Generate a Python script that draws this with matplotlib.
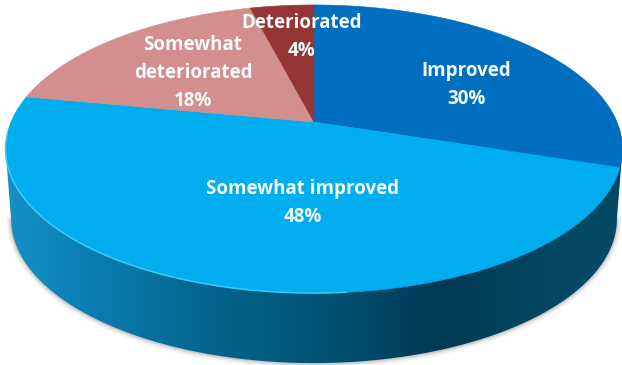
import numpy as np
import matplotlib
matplotlib.use('Agg')
import matplotlib.pyplot as plt
from matplotlib.colors import LinearSegmentedColormap
from matplotlib.patches import Polygon

categories = ['Improved', 'Somewhat improved', 'Somewhat\ndeteriorated', 'Deteriorated']
values = [30, 48, 18, 4]
colors = ['#006fbf', '#00aeef', '#d28f8d', '#943634']
label_pos = [(466, 85), (303, 203), (193, 73), (302, 37)]

# perspective of the tilted disc, in pixels
CX, CY = 314, 122
SX, SY = 303, 139
K = 0.1875
DEPTH = 70
SHRINK = 0.982


def project(theta):
    # theta is in degrees, clockwise from twelve o'clock
    t = np.radians(theta)
    d = 1 + K * np.cos(t)
    return CX + SX * np.sin(t) / d, CY - SY * np.cos(t) / d


fig = plt.figure(figsize=(6.22, 3.65), dpi=100)
ax = fig.add_axes([0, 0, 1, 1])

# the widest points of the disc sit a little below the horizontal angle
side = np.degrees(np.arccos(-K))
arc = np.linspace(side, 360 - side, 200)
x_top, y_top = project(arc)
x_bot = CX + (x_top - CX) * SHRINK
y_bot = y_top + DEPTH
wall_xy = np.vstack([np.column_stack([x_top[:1], y_top[:1]]),
                     np.column_stack([x_bot, y_bot]),
                     np.column_stack([x_top[-1:], y_top[-1:]])])

# soft shadow under the wall
for grow, alpha in [(5, 0.04), (3.5, 0.06), (2, 0.09), (1, 0.12)]:
    ax.plot(x_bot, y_bot + 0.5, color='#404040', lw=grow * 1.4, alpha=alpha,
            solid_capstyle='round', zorder=1)

wall = Polygon(wall_xy, closed=True, fc='none', ec='none', zorder=2)
ax.add_patch(wall)
wall_cmap = LinearSegmentedColormap.from_list('wall', [
    (0.0, '#178fc5'), (0.12, '#0c80b4'), (0.32, '#03668f'), (0.52, '#015274'),
    (0.66, '#003f5c'), (0.71, '#003a55'), (0.88, '#034863'), (1.0, '#044a66')])
shade = ax.imshow(np.linspace(0, 1, 256).reshape(1, -1), cmap=wall_cmap,
                  extent=(5, 622, 365, 100), aspect='auto', zorder=2)
shade.set_clip_path(wall)

# top face
start = 0
for value, color in zip(values, colors):
    end = start + value * 3.6
    x, y = project(np.linspace(start, end, 120))
    face = np.vstack([[CX, CY], np.column_stack([x, y])])
    ax.add_patch(Polygon(face, closed=True, fc=color, ec=color, lw=0.4, zorder=3))
    start = end

# bright rim on the lit side of the disc
x, y = project(np.linspace(175, 265, 120))
ax.plot(x, y, color='#45cdff', lw=1.1, alpha=0.9, zorder=4)

for name, value, (tx, ty) in zip(categories, values, label_pos):
    ax.text(tx, ty, f'{name}\n{value}%', color='#f6fbfd', ha='center', va='center',
            family='Open Sans', fontweight='bold', fontsize=13.5, linespacing=1.5,
            zorder=5)

ax.set_xlim(0, 622)
ax.set_ylim(365, 0)
ax.axis('off')
fig.savefig('out.png', dpi=100, facecolor='white')
